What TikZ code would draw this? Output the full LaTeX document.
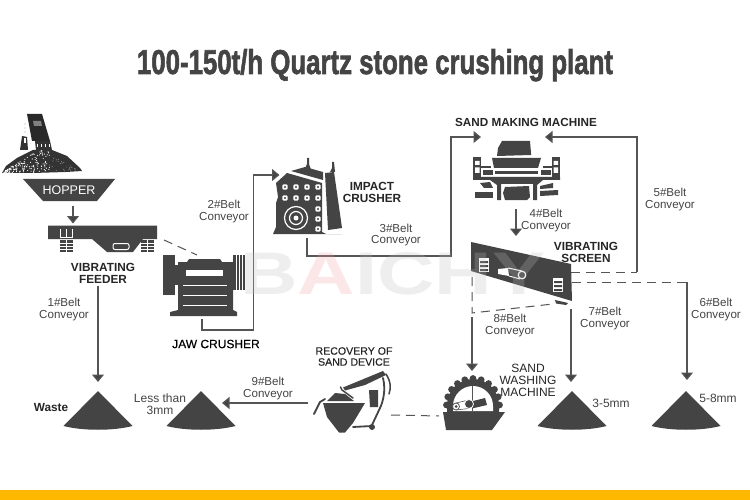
\documentclass[tikz,border=0pt]{standalone}
\usepackage{graphicx}
\usepackage{fontspec}
\setmainfont{Liberation Sans}
\usetikzlibrary{arrows.meta}
\definecolor{ink}{HTML}{444444}
\definecolor{lin}{HTML}{555555}
\definecolor{barc}{HTML}{FFB800}
\definecolor{wmpink}{HTML}{F0A0A0}
\tikzset{
 x=1pt,y=-1pt,
 lab/.style={align=center,inner sep=0pt,text=ink,font=\fontsize{11.6}{12}\selectfont},
 blab/.style={align=center,inner sep=0pt,text=black!85,font=\fontsize{11.8}{12}\selectfont\bfseries},
 rlab/.style={align=center,inner sep=0pt,text=black!85,font=\fontsize{12}{12}\selectfont},
 flow/.style={draw=lin,line width=1.2pt,-{Triangle[width=12pt,length=7.5pt,fill=ink]}},
 dashline/.style={draw=lin,line width=1pt,dash pattern=on 9pt off 6pt},
 pipe/.style={draw=ink,line width=1.8pt,line cap=round}
}
\newcommand{\pile}[1]{\fill[ink] (#1,391) -- (#1+34.5,426) .. controls (#1+15,431) and (#1-15,431) .. (#1-34.5,426) -- cycle;}
\newcommand{\spring}[2]{\fill[ink] (#1,#2) rectangle (#1+13,#2+12);
 \foreach \yy in {3,6,9}{\draw[white,line width=.8pt] (#1,#2+\yy) -- (#1+13,#2+\yy);}
 \draw[white,line width=.8pt] (#1+6.5,#2) -- (#1+6.5,#2+12);}
\newcommand{\hole}[2]{\fill[white,rounded corners=1pt] (#1-2.6,#2-2.6) rectangle (#1+2.6,#2+2.6);\fill[ink] (#1,#2) circle (1.1pt);}
\newcommand{\window}[2]{\fill[white] (#1,#2) rectangle (#1+10,#2+14);
 \fill[ink] (#1+1,#2+3) rectangle (#1+9,#2+5) (#1+1,#2+7) rectangle (#1+9,#2+9) (#1+1,#2+11) rectangle (#1+9,#2+13);}
\begin{document}
\begin{tikzpicture}
\useasboundingbox (0,0) rectangle (750,500);
\fill[white] (0,0) rectangle (750,500);
\fill[barc] (0,490) rectangle (750,500);
% title
\node[anchor=base,inner sep=0pt,text=ink] (title) at (375,74) {\resizebox{476pt}{25pt}{\addfontfeatures{FakeBold=2}\bfseries 100-150t/h Quartz stone crushing plant}};
% rock pile
\fill[ink!75!black] (2,173) -- (6,166) -- (17,158) -- (33,150) -- (52,150) -- (67,156) -- (80,168) -- (82,171) -- (66,172) -- (33,173) -- cycle;
\pgfmathsetseed{7}
\foreach \i in {1,...,150}{\pgfmathsetmacro\px{4+rnd*46}\pgfmathsetmacro\py{172.5-rnd*min(22,(\px-2)*.62)}\fill[white] (\px,\py) circle (.6pt);}
\foreach \i in {1,...,25}{\pgfmathsetmacro\px{48+rnd*30}\pgfmathsetmacro\py{171-rnd*max(2,(80-\px)*.55)}\fill[gray] (\px,\py) circle (.6pt);}
\fill[ink!60!black] (27,114) -- (42,114) -- (50,141) -- (32,141) -- cycle;
\fill[gray] (33,121) -- (41,121) -- (42,126) -- (34,126) -- cycle;
\fill[ink!75!black] (35,141) -- (50,141) -- (52,150) -- (36,150) -- cycle;
\foreach \xx in {38,42,46,50}{\fill[white] (\xx-.8,144) rectangle (\xx+.3,147);}
\fill[ink!75!black] (22,136) -- (27,137) -- (28,150) -- (20,150) -- cycle;
\fill[white] (23.5,138.5) rectangle (26,143);
\foreach \yy in {124,128,132}{\fill[gray!70] (25,\yy) circle (.6pt);}
% hopper
\fill[ink] (23,179) -- (115,179) -- (97,201) -- (43,201) -- cycle;
\node[inner sep=0pt,text=white,font=\fontsize{12.5}{13}\selectfont] (hopper) at (69,190) {HOPPER};
% feeder
\fill[ink] (48,225.5) -- (157,225.5) -- (157,239) -- (143,239) -- (133,252) -- (107,252) -- (92,239) -- (48,239) -- cycle;
\draw[white,line width=1pt] (60,229) -- (60,237.5) -- (72,237.5) -- (72,229) (66,229) -- (66,237.5);
\draw[white,line width=1pt,rounded corners=2pt] (113,243.5) rectangle (129,249.5);
\spring{59.5}{240}
\spring{141}{240}
% jaw crusher
\fill[ink] (163,255) rectangle (175,295);
\fill[ink] (175,265) rectangle (179,285);
\fill[ink] (178,262) -- (187,262) -- (189,259) -- (220,259) -- (222,262) -- (233,262) -- (233,310) -- (237,312) -- (237,316) -- (170,316) -- (170,312) -- (178,310) -- cycle;
\fill[ink] (233,255) rectangle (245,290);
\foreach \xx in {236,239,242}{\draw[white,line width=.5pt] (\xx,255) -- (\xx,290);}
\fill[white] (186,270) rectangle (223,276);
\foreach \yy in {285,295,305}{\draw[white,line width=1pt] (183,\yy) -- (227,\yy);}
% impact crusher
\fill[ink] (276,183) -- (287,173) -- (322,183) -- (322,232) -- (326,234) -- (342,234) -- (273,234) -- (276,227) -- (276,203) -- (278,197) -- cycle;
\fill[ink] (291,171) -- (305,167) -- (323,172) -- (323,180) -- cycle;
\fill[ink] (325,173) -- (334,172) -- (342,228) -- (328,230) -- cycle;
\fill[ink] (305,168.5) -- (307,164) -- (307,158) -- (309,158) -- (309,164) -- (311,169.5) -- cycle;
\fill[ink] (330,172) -- (332,168) -- (332,162) -- (334,162) -- (335,172) -- cycle;
\foreach \xx in {285,296,307,318}{\foreach \yy in {187,198}{\hole{\xx}{\yy}}}
\foreach \yy in {209,219,229}{\hole{318}{\yy}}
\draw[white,line width=1.2pt] (296,218) circle (11.5pt);
\draw[white,line width=1.2pt] (296,218) circle (6.5pt);
\fill[white] (296,218) circle (2.5pt);
% sand making machine
\fill[ink] (502,141) -- (530,141) -- (531,153) -- (531,155) -- (497,156) -- (498,148) -- cycle;
\fill[ink] (492,158) -- (541,158) -- (538,168) -- (494,168) -- cycle;
\fill[ink] (495,171) rectangle (538,174);
\fill[ink] (473,157) rectangle (481,177);
\fill[ink] (552,157) rectangle (560,177);
\fill[white] (475,161) rectangle (479.5,165) (475,167.5) rectangle (479.5,173);
\fill[white] (553.5,161) rectangle (558,165) (553.5,167.5) rectangle (558,173);
\fill[ink] (481,166.5) rectangle (491,168);
\fill[ink] (543,166.5) rectangle (552,168);
\fill[ink] (483,170) rectangle (493,175);
\fill[ink] (541,170) rectangle (551,175);
\fill[ink] (473,177) -- (560,177) -- (560,180) -- (543,180) -- (537,185) -- (537,200) -- (533,200) -- (533,184) -- (501,184) -- (501,200) -- (497,200) -- (497,185) -- (490,180) -- (473,180) -- cycle;
\fill[ink] (505,187) -- (529,186) -- (530,197) -- (527,200) -- (505,200) -- (503,193) -- cycle;
\fill[ink] (480,183) -- (490,182) -- (493,188) -- (484,188) -- cycle;
\fill[ink] (475,192) rectangle (493,198);
\fill[ink] (540,186) -- (553,183) -- (553,188) -- (540,189) -- cycle;
\fill[ink] (540,191) -- (558,190) -- (558,195) -- (540,196) -- cycle;
% vibrating screen
\fill[ink] (471,242) -- (571,264) -- (572,301) -- (471,271) -- cycle;
\window{479}{258}
\window{553}{278}
\fill[white] (498,269) -- (508,268) -- (509,276) -- (498,274) -- cycle;
\draw[white,line width=1pt] (508,268) -- (522,271) (509,276) -- (520,279);
\draw[white,line width=1.2pt,fill=ink] (522,275) circle (3.8pt);
\fill[ink] (555,300) -- (568,303) -- (566,305) -- (556,303.5) -- cycle;
% sand washer
\foreach \a in {0,18,...,180}{\fill[ink] ({473+26.5*cos(\a)},{405-26.5*sin(\a)}) circle (3.4pt);}
\fill[ink] (447,412) -- (447,405) arc[start angle=180,end angle=360,radius=26] -- (499,412) -- cycle;
\fill[white] (453,411) -- (453,406) arc[start angle=180,end angle=360,radius=20] -- (493,411) -- cycle;
\draw[lin,line width=.8pt] (472.5,386) -- (472.5,411);
\fill[ink] (469,402) -- (485,398) -- (487,405) -- (472,408.5) -- cycle;
\draw[lin,line width=.6pt] (456,403) -- (469,400) (456,410) -- (469,408.5);
\draw[lin,line width=.8pt,fill=white] (456,406.5) circle (3.5pt);
\fill[ink] (456,406.5) circle (1.5pt);
\draw[white,line width=.8pt,fill=ink] (469,404) circle (4.5pt);
\fill[ink] (443,412) -- (505,412) -- (492,430) -- (446,430) -- cycle;
% recovery device
\fill[ink] (323,403) -- (365,403) -- (353,423) -- (345,432.5) -- (339,432.5) -- (327,417) -- cycle;
\fill[ink] (327,401) -- (335,393) -- (345,394) -- (354,401) -- cycle;
\draw[pipe] (314,414) -- (320,402) -- (325,399);
\draw[pipe,line width=1.5pt] (340.5,387) -- (342,390) -- (353,398);
\fill[ink] (343,387.5) -- (383,371) -- (386,375) -- (365,385) -- (345,390.5) -- cycle;
\draw[pipe,line width=1.5pt] (386,374) .. controls (391,382) and (391,388) .. (389,394);
\draw[pipe] (383,378) .. controls (386,390) and (383,402) .. (380,408) -- (372,425);
\draw[pipe] (353,427) -- (372,426);
\fill[ink] (372,427) circle (3pt);
\fill[ink] (369,390) -- (378,390) -- (378,407) -- (370,407) -- cycle;
% piles
\pile{98}
\pile{201}
\pile{572}
\pile{686}
% anchors
\coordinate (hopperOut) at (73,206);
\coordinate (feederIn) at (73,223.5);
\coordinate (feederDash) at (164,240);
\coordinate (jawDash) at (197,255);
\coordinate (feederOut) at (98,286);
\coordinate (wasteIn) at (98,382);
\coordinate (jawOut) at (202,319);
\coordinate (impactIn) at (279.5,175);
\coordinate (impactOut) at (307,238);
\coordinate (makerIn) at (481,137);
\coordinate (makerIn2) at (545,137);
\coordinate (makerOut) at (516,209);
\coordinate (screenIn) at (516,236);
\coordinate (screenA) at (571,272);
\coordinate (screenB) at (572,282);
\coordinate (corner5) at (637,272);
\coordinate (corner6) at (687,282);
\coordinate (pile6In) at (687,380);
\coordinate (screenC) at (571,309);
\coordinate (pile7In) at (571,382);
\coordinate (screenD) at (472,277);
\coordinate (bend8) at (472,313);
\coordinate (bend8b) at (472,317);
\coordinate (screenE) at (553,304);
\coordinate (washIn) at (472,371);
\coordinate (washOut) at (439,416);
\coordinate (recIn) at (391,415);
\coordinate (recOut) at (308,403);
\coordinate (pile9In) at (222,403);
\coordinate (elbow2) at (253.5,330);
\coordinate (elbow3) at (451,256);
% connectors
\draw[flow] (hopperOut) -- (feederIn);
\draw[dashline] (feederDash) -- (jawDash);
\draw[flow] (feederOut) -- (wasteIn);
\draw[flow] (jawOut) |- (elbow2) |- (impactIn);
\draw[flow] (impactOut) |- (elbow3) |- (makerIn);
\draw[flow] (makerOut) -- (screenIn);
\draw[dashline] (screenA) -- (corner5);
\draw[flow] (corner5) |- (makerIn2);
\draw[dashline] (screenB) -- (corner6);
\draw[flow] (corner6) -- (pile6In);
\draw[flow] (screenC) -- (pile7In);
\draw[dashline] (screenD) -- (bend8) -- (screenE);
\draw[flow] (bend8b) -- (washIn);
\draw[dashline] (recIn) -- (washOut);
\draw[flow] (recOut) -- (pile9In);
% labels
\node[blab] (lfeeder) at (103,273) {VIBRATING\\FEEDER};
\node[rlab,text=black,font=\fontsize{12}{12}\selectfont\addfontfeatures{FakeBold=.2}] (ljaw) at (216,344) {JAW CRUSHER};
\node[blab] (limpact) at (372,192) {IMPACT\\CRUSHER};
\node[blab,font=\fontsize{11.7}{12}\selectfont\bfseries] (lmaker) at (526,122) {SAND MAKING MACHINE};
\node[blab] (lscreen) at (586,252.5) {VIBRATING\\SCREEN};
\node[rlab,font=\fontsize{10.6}{11}\selectfont\addfontfeatures{FakeBold=.3}] (lrec) at (354,356.5) {RECOVERY OF\\SAND DEVICE};
\node[rlab] (lwash) at (528,380) {SAND\\WASHING\\MACHINE};
\node[blab] (lwaste) at (51,407) {Waste};
\node[rlab,text=ink] (lless) at (160,404.5) {Less than\\3mm};
\node[rlab,text=ink] (l35) at (611,403) {3-5mm};
\node[rlab,text=ink] (l58) at (718,398) {5-8mm};
\node[lab] (b1) at (64,309.5) {1\#Belt\\Conveyor};
\node[lab] (b2) at (224,212) {2\#Belt\\Conveyor};
\node[lab] (b3) at (396,235) {3\#Belt\\Conveyor};
\node[lab] (b4) at (546,221) {4\#Belt\\Conveyor};
\node[lab] (b5) at (670,200) {5\#Belt\\Conveyor};
\node[lab] (b6) at (716,309) {6\#Belt\\Conveyor};
\node[lab] (b7) at (605,318) {7\#Belt\\Conveyor};
\node[lab] (b8) at (510,325) {8\#Belt\\Conveyor};
\node[lab] (b9) at (268,388) {9\#Belt\\Conveyor};
% watermark
\node[anchor=base west,inner sep=0pt,opacity=.25,text=black!25] (wm) at (240,294) {\resizebox{305pt}{42pt}{\bfseries B\textcolor{wmpink}{A}ICHY}};
\end{tikzpicture}
\end{document}
